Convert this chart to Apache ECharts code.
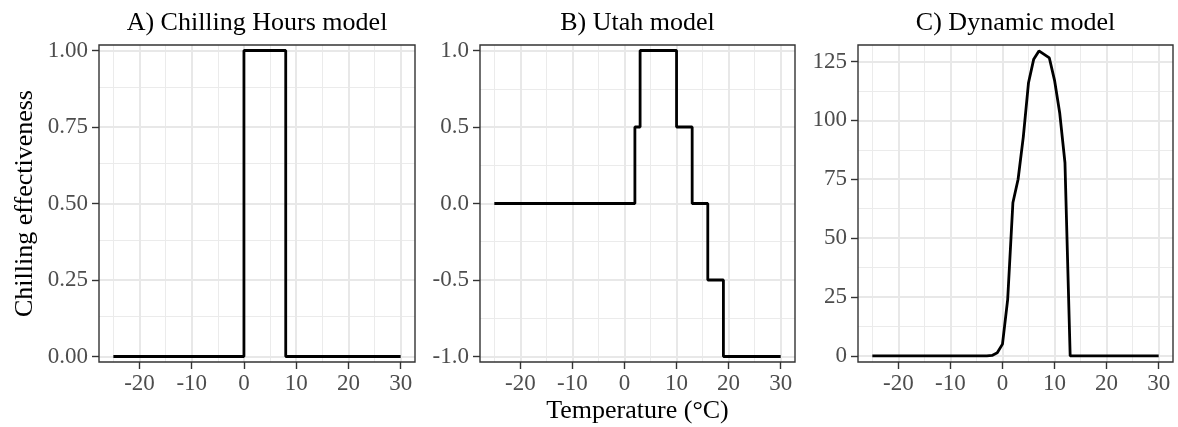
<!DOCTYPE html>
<html><head><meta charset="utf-8">
<script src="https://cdn.jsdelivr.net/npm/echarts@6/dist/echarts.min.js"></script>
<style>html,body{margin:0;padding:0;background:#fff}#c{width:1178px;height:427px}</style>
</head><body><div id="c"></div>
<script>
// ---- data ----
const temperature = [-25,-24,-23,-22,-21,-20,-19,-18,-17,-16,-15,-14,-13,-12,-11,-10,-9,-8,-7,-6,-5,-4,-3,-2,-1,0,1,2,3,4,5,6,7,8,9,10,11,12,13,14,15,16,17,18,19,20,21,22,23,24,25,26,27,28,29,30];
const chillingHours = [0,0,0,0,0,0,0,0,0,0,0,0,0,0,0,0,0,0,0,0,0,0,0,0,0,1,1,1,1,1,1,1,1,0,0,0,0,0,0,0,0,0,0,0,0,0,0,0,0,0,0,0,0,0,0,0];
const utahModel = [0,0,0,0,0,0,0,0,0,0,0,0,0,0,0,0,0,0,0,0,0,0,0,0,0,0,0,0.5,1,1,1,1,1,1,1,0.5,0.5,0.5,0,0,0,-0.5,-0.5,-0.5,-1,-1,-1,-1,-1,-1,-1,-1,-1,-1,-1,-1];
const dynamicModel = [0,0,0,0,0,0,0,0,0,0,0,0,0,0,0,0,0,0,0,0,0,0,0,0.2,1.3,5,24,65,75,93,116,126,129.5,128,126.5,117,103,82,0,0,0,0,0,0,0,0,0,0,0,0,0,0,0,0,0,0];

const panelTitles = ['A) Chilling Hours model', 'B) Utah model', 'C) Dynamic model'];
const yAxisTitle = 'Chilling effectiveness';
const xAxisTitle = 'Temperature (°C)';

const xTicks = [-20, -10, 0, 10, 20, 30];
const xMinor = [-25, -15, -5, 5, 15, 25];
const yTicksA = [0, 0.25, 0.5, 0.75, 1];
const yLabelsA = ['0.00', '0.25', '0.50', '0.75', '1.00'];
const yMinorA = [0.125, 0.375, 0.625, 0.875];
const yTicksB = [-1, -0.5, 0, 0.5, 1];
const yLabelsB = ['-1.0', '-0.5', '0.0', '0.5', '1.0'];
const yMinorB = [-0.75, -0.25, 0.25, 0.75];
const yTicksC = [0, 25, 50, 75, 100, 125];
const yLabelsC = ['0', '25', '50', '75', '100', '125'];
const yMinorC = [12.5, 37.5, 62.5, 87.5, 112.5];

// ---- layout ----
const FONT = '"Liberation Serif", "Times New Roman", serif';
const lefts = [99, 480, 858];
const widths = [316, 315, 315];
const TOP = 45, HEIGHT = 317;
const xRange = [-27.75, 32.75];
const yRanges = [[-0.018, 1.018], [-1.036, 1.036], [-2.6, 132]];
const panels = [
  { values: chillingHours, step: 'end', yTicks: yTicksA, yLabels: yLabelsA, yMinor: yMinorA },
  { values: utahModel, step: 'end', yTicks: yTicksB, yLabels: yLabelsB, yMinor: yMinorB },
  { values: dynamicModel, step: false, yTicks: yTicksC, yLabels: yLabelsC, yMinor: yMinorC }
];

const grids = [], xAxes = [], yAxes = [], series = [], graphics = [];
panels.forEach((p, i) => {
  grids.push({ left: lefts[i], width: widths[i], top: TOP, height: HEIGHT, show: true,
    borderColor: '#333333', borderWidth: 1.4, backgroundColor: 'transparent', z: 6 });
  xAxes.push({ type: 'value', gridIndex: i, min: xRange[0], max: xRange[1],
    axisLine: { show: false, onZero: false },
    axisTick: { show: true, length: 7, customValues: xTicks, lineStyle: { color: '#333333', width: 1.4 } },
    axisLabel: { customValues: xTicks, color: '#4D4D4D', fontSize: 23, fontFamily: FONT, margin: 10,
      formatter: v => String(v) },
    splitLine: { show: false } });
  yAxes.push({ type: 'value', gridIndex: i, min: yRanges[i][0], max: yRanges[i][1],
    axisLine: { show: false, onZero: false },
    axisTick: { show: true, length: 7, customValues: p.yTicks, lineStyle: { color: '#333333', width: 1.4 } },
    axisLabel: { customValues: p.yTicks, color: '#4D4D4D', fontSize: 23, fontFamily: FONT, margin: 11,
      formatter: v => { const k = p.yTicks.findIndex(t => Math.abs(t - v) < 1e-9); return k >= 0 ? p.yLabels[k] : ''; } },
    splitLine: { show: false } });
  const minorStyle = { color: '#EBEBEB', width: 1, type: 'solid' };
  const majorStyle = { color: '#E8E8E8', width: 2, type: 'solid' };
  series.push({ type: 'line', xAxisIndex: i, yAxisIndex: i, data: [], silent: true, z: 1,
    markLine: { silent: true, z: 1, zlevel: 0, symbol: ['none', 'none'], label: { show: false }, animation: false,
      lineStyle: { type: 'solid', color: '#EBEBEB' }, emphasis: { disabled: true },
      data: [].concat(
        xMinor.map(v => ({ xAxis: v, lineStyle: minorStyle })),
        p.yMinor.map(v => ({ yAxis: v, lineStyle: minorStyle })),
        xTicks.map(v => ({ xAxis: v, lineStyle: majorStyle })),
        p.yTicks.map(v => ({ yAxis: v, lineStyle: majorStyle }))
      ) } });
  series.push({ type: 'line', xAxisIndex: i, yAxisIndex: i, step: p.step, z: 4,
    data: temperature.map((t, k) => [t, p.values[k]]),
    showSymbol: false, symbol: 'none', silent: true,
    lineStyle: { color: '#000000', width: 2.8 } });
  graphics.push({ type: 'text', x: lefts[i] + widths[i] / 2, y: 23,
    style: { text: panelTitles[i], fontSize: 26, fontFamily: FONT, fill: '#000000', align: 'center', verticalAlign: 'middle' } });
});
graphics.push({ type: 'text', x: 25, y: TOP + HEIGHT / 2, rotation: Math.PI / 2,
  style: { text: yAxisTitle, fontSize: 26, fontFamily: FONT, fill: '#000000', align: 'center', verticalAlign: 'middle' } });
graphics.push({ type: 'text', x: lefts[1] + widths[1] / 2, y: 411,
  style: { text: xAxisTitle, fontSize: 26, fontFamily: FONT, fill: '#000000', align: 'center', verticalAlign: 'middle' } });

const chart = echarts.init(document.getElementById('c'), null, { renderer: 'canvas' });
chart.setOption({
  animation: false,
  backgroundColor: '#ffffff',
  grid: grids, xAxis: xAxes, yAxis: yAxes, series: series, graphic: graphics
});
</script></body></html>
